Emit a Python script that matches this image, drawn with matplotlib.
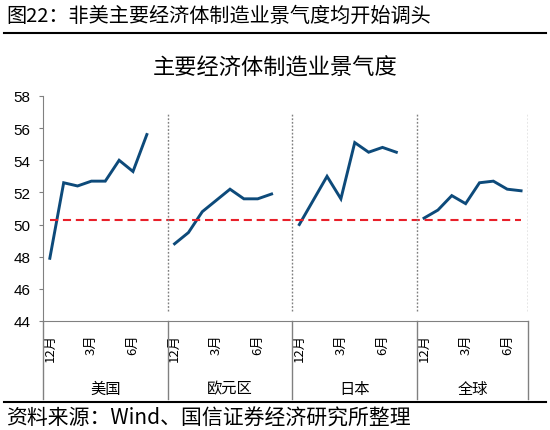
import numpy as np
import matplotlib
matplotlib.use('Agg')
import matplotlib.pyplot as plt
from matplotlib.lines import Line2D
import matplotlib.transforms as mtransforms

plt.rcParams['font.family'] = ['Liberation Sans', 'Noto Sans CJK SC']
CJK = ['Noto Sans CJK SC', 'DejaVu Sans']

# data
groups = ['美国', '欧元区', '日本', '全球']
month_labels = ['12月', '', '', '3月', '', '', '6月', '']
us = [47.9, 52.6, 52.4, 52.7, 52.7, 54.0, 53.3, 55.6]
euro = [48.8, 49.5, 50.8, 51.5, 52.2, 51.6, 51.6, 51.9]
japan = [50.0, 51.5, 53.0, 51.6, 55.1, 54.5, 54.8, 54.5]
world = [50.4, 50.9, 51.8, 51.3, 52.6, 52.7, 52.2, 52.1]
series = [us, euro, japan, world]
ref_level = 50.3

slots = 9  # 8 months + one blank slot per group
n_total = slots * (len(groups) - 1) + len(month_labels)

fig = plt.figure(figsize=(5.5, 4.31), dpi=100)
ax = fig.add_axes([0.078, 0.253, 0.882, 0.522])

line_col = '#0d4a7a'
tick_pos, tick_lab = [], []
for g, vals in enumerate(series):
    x = np.arange(len(vals)) + g * slots
    ax.plot(x, vals, color=line_col, lw=2.1, solid_joinstyle='miter')
    for i, lab in enumerate(month_labels):
        if lab:
            tick_pos.append(g * slots + i)
            tick_lab.append(lab)

# reference line
ax.plot([0, n_total - 1], [ref_level, ref_level], color='#e8202a', lw=1.5,
        dashes=(3.9, 2.3))

# group borders
bounds = [-0.5] + [g * slots + len(month_labels) - 0.5 + 1 for g in range(len(groups) - 1)] + [n_total - 0.5]
for b in bounds[1:]:
    ax.plot([b, b], [44.6, 56.9], color='#808080', lw=1.0, dashes=(1.3, 1.3))

trans = mtransforms.blended_transform_factory(ax.transData, ax.transAxes)
for b in bounds:
    ax.plot([b, b], [0, -0.347], color='#808080', lw=1.0, transform=trans,
            clip_on=False)
for g, name in enumerate(groups):
    mid = (bounds[g] + bounds[g + 1]) / 2
    ax.text(mid, -0.298, name, transform=trans, ha='center', va='center',
            fontsize=11, family=CJK)

ax.set_xlim(-0.5, n_total - 0.5)
ax.set_ylim(44, 58)
ax.set_yticks(np.arange(44, 59, 2))
ax.set_xticks(tick_pos)
ax.set_xticklabels(tick_lab, rotation=90, family=CJK, fontsize=9.5)
ax.tick_params(axis='x', length=0, pad=9)
ax.tick_params(axis='y', length=3, labelsize=11, color='#808080', pad=6)
for s in ['top', 'right']:
    ax.spines[s].set_visible(False)
for s in ['left', 'bottom']:
    ax.spines[s].set_color('#808080')

fig.text(0.5, 0.843, '主要经济体制造业景气度', ha='center', va='center',
         fontsize=16, family=CJK)
fig.text(0.011, 0.962, '图22：非美主要经济体制造业景气度均开始调头', ha='left',
         va='center', fontsize=14.5, family=CJK)
fig.add_artist(Line2D([0.007, 0.993], [0.921, 0.921], color='black', lw=1.5))
fig.add_artist(Line2D([0.007, 0.993], [0.065, 0.065], color='black', lw=1.5))
fig.text(0.011, 0.029, '资料来源：Wind、国信证券经济研究所整理', ha='left',
         va='center', fontsize=15, family=CJK)

plt.savefig('out.png', dpi=100)
